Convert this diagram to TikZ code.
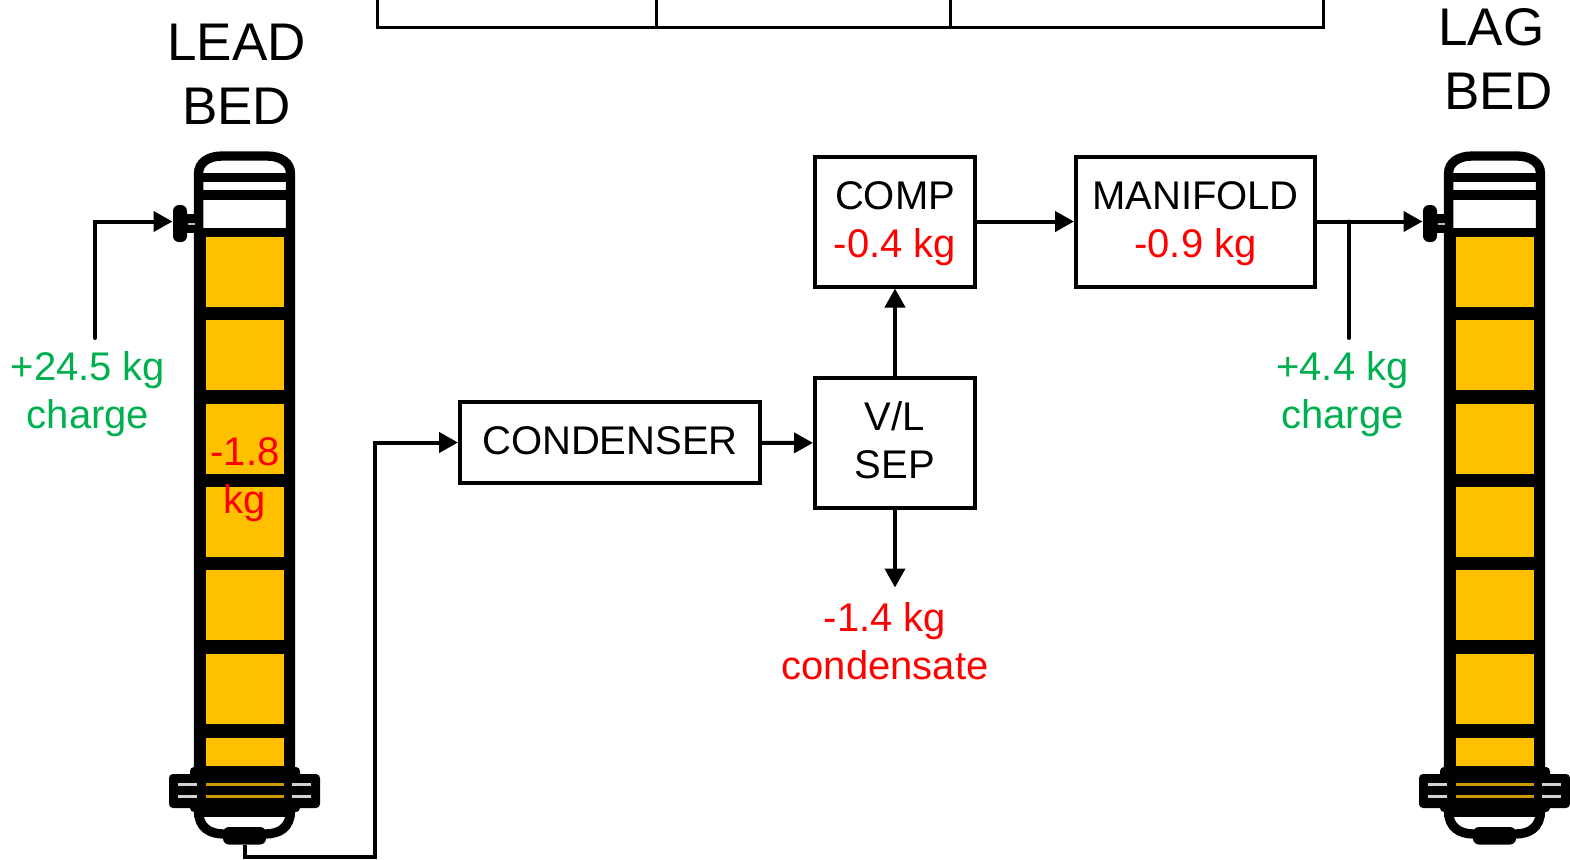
\documentclass[tikz,border=0pt]{standalone}
\usepackage{fontspec}
\setmainfont{Liberation Sans}
\usetikzlibrary{arrows.meta}
\definecolor{bedfill}{RGB}{255,192,0}
\definecolor{chargegreen}{RGB}{0,176,80}
\newcommand{\topfill}{\rule{0pt}{16pt}}
\newcommand{\botfill}[1]{\rule[-#1]{0pt}{#1}}
\begin{document}
\begin{tikzpicture}[
    x=0.5pt, y=-0.5pt,
    unit/.style={draw, line width=2pt, fill=white, rectangle, inner sep=0pt, align=center, font=\fontsize{20}{24}\selectfont},
    cell/.style={draw, line width=1.4pt, minimum height=40pt, inner sep=0pt},
    title/.style={align=center, font=\fontsize{26.5}{32}\selectfont},
    loss/.style={align=center, text=red, font=\fontsize{20}{24}\selectfont},
    gain/.style={align=center, text=chargegreen, font=\fontsize{20}{24}\selectfont},
    arrow/.style={-{Triangle[length=9.5pt,width=10pt]}, line width=2pt},
    pipe/.style={line width=2pt, line cap=round},
    wall/.style={line width=4.65pt},
    band/.style={fill=black},
    bed/.pic={
        % Shell and top head
        \fill[white] (198,173) rectangle (291,235);
        \fill[band] (198.6,228) rectangle (290.4,775);
        \draw[wall] (198.6,790) -- (198.6,173) .. controls (198.6,163) and (208,156) .. (222,156) -- (267,156) .. controls (281,156) and (290.4,163) .. (290.4,173) -- (290.4,790);
        % Bands across the head
        \fill[band] (198.6,173) rectangle (290.4,182);
        \fill[band] (198.6,190) rectangle (290.4,200);
        % Bed sections
        \foreach \y in {237,320,404,487,570,654} {
            \fill[bedfill] (205.5,\y) rectangle (283.5,\y+69.5);
        }
        \fill[bedfill] (205.5,738) rectangle (283.5,766);
        % Inlet nozzle
        \fill[band] (187,214) rectangle (198,233);
        \fill[band, rounded corners=3pt] (173,205) rectangle (187,242);
        \fill[gray!50] (188,222.7) rectangle (195,225);
        % Bottom head
        \draw[wall] (198.6,812) .. controls (199,827) and (209,834) .. (224,834) -- (265,834) .. controls (280,834) and (290,827) .. (290.4,812);
        \fill[band, rounded corners=3pt] (223,827) rectangle (266,844.5);
        % Flange
        \fill[band] (194,805) rectangle (295,817);
        \fill[band, rounded corners=2pt] (190,767) rectangle (300,812);
        \fill[band, rounded corners=2pt] (169,774) rectangle (320,808);
        \foreach \y in {783,795} {
            \fill[bedfill!80!black] (205.5,\y) rectangle (283.5,\y+3.3);
            \fill[gray!35] (178,\y) rectangle (197,\y+3.3);
            \fill[gray!35] (292,\y) rectangle (311,\y+3.3);
        }
        \coordinate (-inlet) at (172.5,221.5);
        \coordinate (-outlet) at (245,844.5);
    }
]
\clip (0,0) rectangle (1570,859);
% Table cut off by the top edge
\node[cell, minimum width=139.5pt] (cellA) at (517,-12.7) {};
\node[cell, minimum width=147pt] (cellB) at (803.5,-12.7) {};
\node[cell, minimum width=186.5pt] (cellC) at (1137,-12.7) {};
% Beds
\pic (lead) at (0,0) {bed};
\pic (lag) at (1250,0) {bed};
\node[title] (leadtitle) at (236.5,74) {LEAD\\BED};
\node[title] (lagtitle) at (1491.5,59) {LAG\\\hspace*{7pt}BED};
% Process units
\node[unit, minimum width=80pt, minimum height=65pt] (comp) at (895,221.5) {\topfill COMP\\\textcolor{red}{-0.4 kg}};
\node[unit, minimum width=119.5pt, minimum height=65pt] (manifold) at (1195.5,221.5) {\topfill MANIFOLD\\\textcolor{red}{-0.9 kg}};
\node[unit, minimum width=80pt, minimum height=65pt] (sep) at (895,443) {V/L\\SEP\botfill{3pt}};
\node[unit, minimum width=150pt, minimum height=40.5pt] (condenser) at (610,442.5) {CONDENSER\botfill{2pt}};
% Mass labels
\node[gain] (leadcharge) at (88,394.5) {+24.5 kg\\charge};
\node[gain] (lagcharge) at (1342.5,394.5) {+4.4 kg\\charge};
\node[loss] (bedloss) at (245,480) {-1.8\\kg};
\node[loss] (condensate) at (885,641) {-1.4 kg\\condensate};
% Free ends of the connectors
\coordinate (leadfeed) at (95,338);
\coordinate (lagfeed) at (1349,338);
\coordinate (sepdrain) at (895,587.5);
\coordinate (pipecorner) at (375,857);
% Arrows
\draw[arrow, line cap=round] (leadfeed) |- (lead-inlet);
\draw[arrow] (comp) -- (manifold);
\draw[arrow] (manifold.east) -- (lag-inlet);
\draw[pipe] (lagfeed) -- (lagfeed |- lag-inlet);
\draw[arrow] (sep) -- (comp);
\draw[arrow] (condenser) -- (sep);
\draw[arrow] (sep.south) -- (sepdrain);
\draw[arrow] (lead-outlet) |- (pipecorner) |- (condenser.west);
\end{tikzpicture}
\end{document}
